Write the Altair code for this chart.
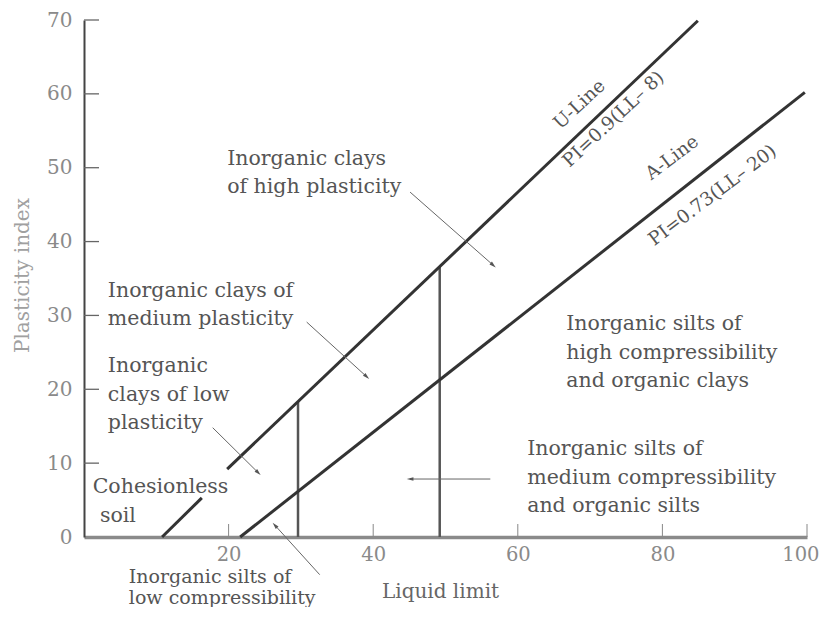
import math
import altair as alt
import pandas as pd

W, H = 723, 517
FONT = "DejaVu Serif"

# ---- axis values ----
x_ticks = [20, 40, 60, 80, 100]
y_ticks = [0, 10, 20, 30, 40, 50, 60, 70]
y_inner_ticks = [10, 20, 30, 40, 50, 60, 70]

# ---- U-line (broken where "Cohesionless" sits) ----
u_ll = [10.8, 16.3, 19.8, 84.9]
u_pi = [0.0, 5.3, 9.2, 69.9]
u_part = ["U1", "U1", "U2", "U2"]

# ---- A-line ----
a_ll = [21.6, 99.7]
a_pi = [0.0, 60.2]

# ---- vertical dividers at LL = 30 and LL = 50 ----
v_ll = [29.6, 49.2]
v_top = [18.3, 36.6]

# ---- zone labels ----
zone_text = [
    "Inorganic clays\nof high plasticity",
    "Inorganic clays of\nmedium plasticity",
    "Inorganic\nclays of low\nplasticity",
    "Cohesionless",
    "soil",
    "Inorganic silts of\nhigh compressibility\nand organic clays",
    "Inorganic silts of\nmedium compressibility\nand organic silts",
]
zone_x = [19.8, 3.3, 3.3, 1.2, 2.2, 66.7, 61.3]
zone_y = [50.4, 32.5, 22.3, 6.0, 2.0, 28.0, 11.1]

low_text = ["Inorganic silts of\nlow compressibility"]
low_x = [6.2]
low_y = [-6.25]

# ---- line labels ----
line_text = ["U-Line", "PI=0.9(LL– 8)", "A-Line", "PI=0.73(LL– 20)"]
line_x = [68.5, 73.2, 81.3, 86.9]
line_y = [58.6, 56.6, 51.4, 46.3]
line_angle = [317, 317, 323, 323]

# ---- leader arrows (tail -> head) ----
arr_x1 = [45.1, 30.8, 17.8, 32.6, 56.2]
arr_y1 = [46.7, 29.1, 14.8, -5.1, 7.85]
arr_x2 = [56.6, 39.1, 24.1, 26.4, 45.1]
arr_y2 = [36.8, 21.7, 8.7, 1.6, 7.85]

sx, sy = W / 100.0, H / 70.0
arr_ang = [
    math.degrees(math.atan2(-(y2 - y1) * sy, (x2 - x1) * sx)) % 360
    for x1, y1, x2, y2 in zip(arr_x1, arr_y1, arr_x2, arr_y2)
]

xs = alt.Scale(domain=[0, 100], nice=False, zero=False)
ys = alt.Scale(domain=[0, 70], nice=False, zero=False)

x_axis = alt.Axis(
    values=x_ticks, ticks=False, tickSize=0, grid=False,
    domainColor="#8a8a8a", domainWidth=3.5,
    labelFont=FONT, labelFontSize=19.5, labelColor="#8a8a8a",
    labelPadding=8, labelFlush=False,
    labelAlign={"expr": "datum.value == 100 ? 'right' : 'center'"},
    labelOffset={"expr": "datum.value == 100 ? 12 : 0"},
    title="Liquid limit", titleFont=FONT, titleFontSize=20,
    titleFontWeight="normal", titleColor="#666666",
    titleX=356, titleY=60, titleAlign="center", titleBaseline="alphabetic",
)
y_axis = alt.Axis(
    values=y_ticks, ticks=False, tickSize=0, grid=False,
    domainColor="#444444", domainWidth=2,
    labelFont=FONT, labelFontSize=20, labelColor="#8a8a8a",
    labelPadding=12, labelFlush=False,
    title="Plasticity index", titleFont=FONT, titleFontSize=20,
    titleFontWeight="normal", titleColor="#a0a0a0",
    titleX=-62, titleY=255, titleAngle=270, titleAlign="center",
    titleBaseline="middle",
)

X = lambda f="ll": alt.X(f"{f}:Q", scale=xs, axis=x_axis)
Y = lambda f="pi": alt.Y(f"{f}:Q", scale=ys, axis=y_axis)

u_df = pd.DataFrame({"ll": u_ll, "pi": u_pi, "part": u_part, "o": range(len(u_ll))})
a_df = pd.DataFrame({"ll": a_ll, "pi": a_pi, "o": range(len(a_ll))})
v_df = pd.DataFrame({"ll": v_ll, "pi": [0, 0], "top": v_top})
z_df = pd.DataFrame({"ll": zone_x, "pi": zone_y, "t": zone_text})
lo_df = pd.DataFrame({"ll": low_x, "pi": low_y, "t": low_text})
l_df = pd.DataFrame({"ll": line_x, "pi": line_y, "t": line_text, "ang": line_angle})
ar_df = pd.DataFrame({"ll": arr_x1, "pi": arr_y1, "ll2": arr_x2, "pi2": arr_y2})
head_df = pd.DataFrame({"ll": arr_x2, "pi": arr_y2, "ang": arr_ang})
yt_df = pd.DataFrame({"pi": y_inner_ticks})
xt_df = pd.DataFrame({"ll": x_ticks})

u_line = alt.Chart(u_df).mark_line(color="#333333", strokeWidth=3).encode(
    x=X(), y=Y(), detail="part:N", order="o:Q")
a_line = alt.Chart(a_df).mark_line(color="#333333", strokeWidth=3).encode(
    x=X(), y=Y(), order="o:Q")
verts = alt.Chart(v_df).mark_rule(color="#555555", strokeWidth=2.5).encode(
    x=X(), y=Y(), y2="top:Q")
ytick = alt.Chart(yt_df).mark_rule(color="#666666", strokeWidth=1.3).encode(
    y=Y(), x=alt.value(0), x2=alt.value(15))
xtick = alt.Chart(xt_df).mark_rule(color="#888888", strokeWidth=1).encode(
    x=X(), y=alt.value(H), y2=alt.value(H - 13))
arrows = alt.Chart(ar_df).mark_rule(color="#666666", strokeWidth=1).encode(
    x=X(), y=Y(), x2="ll2:Q", y2="pi2:Q")
heads = alt.Chart(head_df).mark_point(
    shape="M-1,-0.55L1,0L-1,0.55Z", filled=True, size=45, color="#555555", opacity=1
).encode(x=X(), y=Y(), angle=alt.Angle("ang:Q", scale=None))
zones = alt.Chart(z_df).mark_text(
    font=FONT, fontSize=20.5, color="#555555", align="left", baseline="alphabetic",
    lineBreak="\n", lineHeight=28.5
).encode(x=X(), y=Y(), text="t:N")
low = alt.Chart(lo_df).mark_text(
    font=FONT, fontSize=19, color="#555555", align="left", baseline="alphabetic",
    lineBreak="\n", lineHeight=21
).encode(x=X(), y=Y(), text="t:N")
labels = alt.Chart(l_df).mark_text(
    font=FONT, fontSize=18.5, color="#555555", align="center", baseline="middle"
).encode(x=X(), y=Y(), text="t:N", angle=alt.Angle("ang:Q", scale=None))

chart = alt.layer(
    xtick, ytick, verts, u_line, a_line, arrows, heads, zones, low, labels
).properties(
    width=W, height=H,
    autosize=alt.AutoSizeParams(type="none"),
    padding={"left": 76, "top": 12, "right": 12, "bottom": 70},
    background="white",
).configure_view(stroke=None)

chart.save("out.html", embed_options={"renderer": "svg", "actions": False})
